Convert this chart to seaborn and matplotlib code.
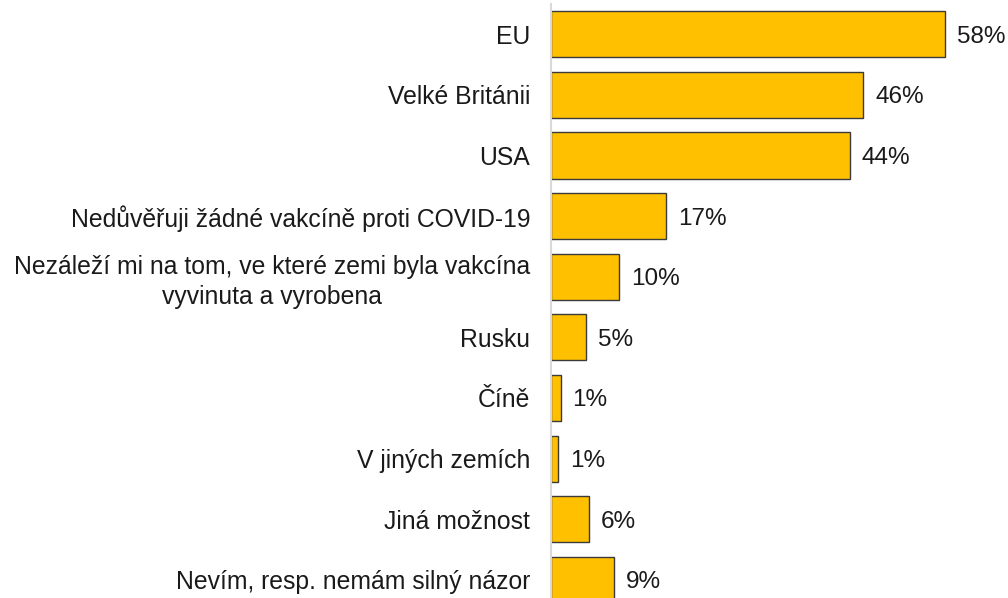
import matplotlib
matplotlib.use("Agg")
import matplotlib.pyplot as plt
import seaborn as sns
import pandas as pd

sns.set_style("white")
plt.rcParams['font.family'] = ['Liberation Sans', 'DejaVu Sans']

categories = [
    "EU",
    "Velké Británii",
    "USA",
    "Nedůvěřuji žádné vakcíně proti COVID-19",
    "Nezáleží mi na tom, ve které zemi byla vakcína\nvyvinuta a vyrobena",
    "Rusku",
    "Číně",
    "V jiných zemích",
    "Jiná možnost",
    "Nevím, resp. nemám silný názor",
]
values = [58, 46, 44, 17, 10, 5, 1, 1, 6, 9]
# bar lengths (labels are rounded)
bar_lengths = [58, 46, 44, 17, 10, 5.1, 1.4, 1.0, 5.6, 9.3]

df = pd.DataFrame({"cat": categories, "val": bar_lengths})

fig = plt.figure(figsize=(10.08, 5.98), dpi=100)
ax = fig.add_axes([551 / 1008, 0, 457 / 1008, 594 / 598])

sns.barplot(data=df, y="cat", x="val", orient="h", color="#FFC000",
            saturation=1, width=0.76, edgecolor="#3a3a3a", linewidth=1, ax=ax)

for i, (b, v) in enumerate(zip(bar_lengths, values)):
    ax.text(b + 1.75, i + 0.04, f"{v}%", va="center", ha="left",
            fontsize=17.5, color="#1a1a1a")

ax.set_xlim(0, 67.3)
ax.set_ylim(9.3, -0.5)
ax.set_xlabel("")
ax.set_ylabel("")
ax.set_xticks([])
ax.tick_params(axis="y", length=0, pad=15, labelsize=17.8, labelcolor="#1a1a1a")
for lab in ax.get_yticklabels():
    lab.set_horizontalalignment("right")
    lab.set_multialignment("center")
    lab.set_linespacing(1.3)
for s in ["top", "right", "bottom"]:
    ax.spines[s].set_visible(False)
ax.spines["left"].set_color("#d9d9d9")
ax.spines["left"].set_linewidth(1.5)

fig.savefig("out.png", dpi=100)
